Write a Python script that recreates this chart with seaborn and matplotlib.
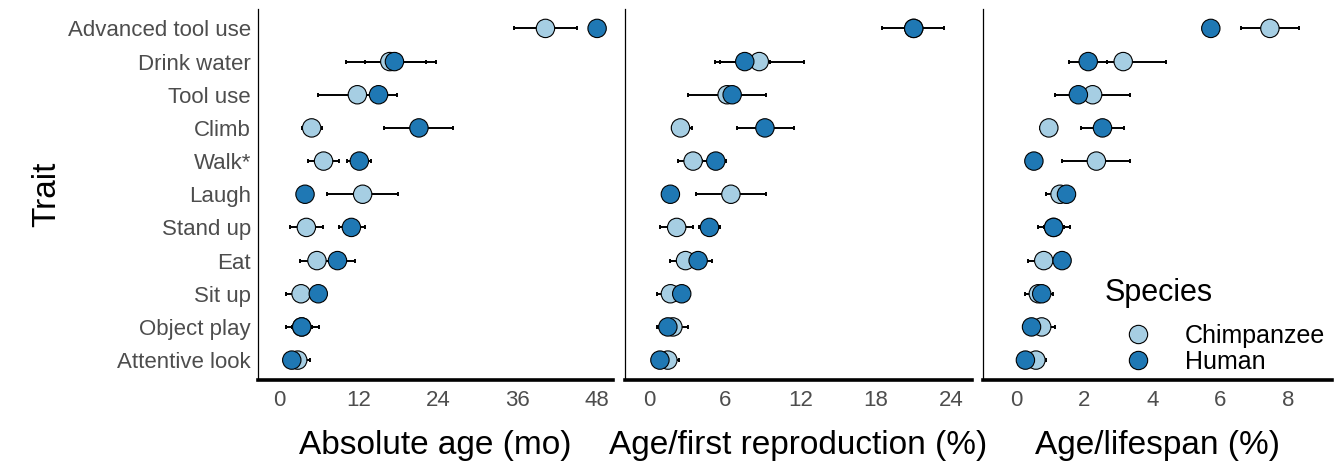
import numpy as np
import pandas as pd
import matplotlib
matplotlib.use("Agg")
import matplotlib.pyplot as plt
from matplotlib.lines import Line2D
import seaborn as sns

traits = ["Advanced tool use", "Drink water", "Tool use", "Climb", "Walk*", "Laugh",
          "Stand up", "Eat", "Sit up", "Object play", "Attentive look"]
species = ["Chimpanzee", "Human"]
colors = ["#a6cee3", "#1f78b4"]

# Panel 1: Absolute age (mo)
abs_chimp = [40.2, 16.7, 11.8, 4.9, 6.7, 12.6, 4.1, 5.7, 3.3, 3.4, 2.8]
abs_chimp_lo = [35.5, 10.1, 5.9, 3.5, 4.4, 7.2, 1.6, 3.1, 1.1, 1.1, 1.6]
abs_chimp_hi = [45.0, 22.1, 14.0, 6.4, 9.0, 17.9, 6.6, 8.0, 4.8, 5.0, 4.7]
abs_human = [48.0, 17.4, 15.0, 21.1, 12.1, 3.9, 10.9, 8.8, 5.9, 3.4, 1.9]
abs_human_lo = [48.0, 12.9, 12.5, 15.8, 10.2, 3.0, 9.1, 6.5, 4.5, 2.0, 0.8]
abs_human_hi = [48.0, 23.6, 17.8, 26.2, 13.9, 4.8, 12.9, 11.5, 7.0, 6.0, 3.0]

# Panel 2: Age / first reproduction (%)
afr_chimp = [21.0, 8.75, 6.2, 2.5, 3.5, 6.5, 2.2, 2.9, 1.7, 1.9, 1.5]
afr_chimp_lo = [18.5, 5.6, 3.1, 1.85, 2.3, 3.75, 0.87, 1.7, 0.6, 0.6, 1.0]
afr_chimp_hi = [23.4, 12.3, 7.0, 3.4, 4.7, 9.3, 3.5, 3.8, 2.5, 3.1, 2.4]
afr_human = [21.0, 7.6, 6.6, 9.2, 5.3, 1.7, 4.8, 3.9, 2.6, 1.5, 0.87]
afr_human_lo = [20.6, 5.2, 6.0, 7.0, 4.2, 1.2, 4.0, 3.0, 1.8, 0.8, 0.4]
afr_human_hi = [21.4, 9.6, 9.3, 11.5, 6.1, 2.2, 5.6, 5.0, 3.2, 2.4, 1.4]

# Panel 3: Age / lifespan (%)
als_chimp = [7.46, 3.14, 2.24, 0.95, 2.35, 1.28, 1.09, 0.80, 0.64, 0.74, 0.57]
als_chimp_lo = [6.6, 2.65, 1.7, 0.7, 1.35, 0.86, 0.62, 0.34, 0.24, 0.4, 0.35]
als_chimp_hi = [8.32, 4.4, 3.34, 1.2, 3.34, 1.5, 1.57, 1.15, 1.08, 1.13, 0.88]
als_human = [5.72, 2.11, 1.82, 2.53, 0.51, 1.47, 1.09, 1.34, 0.74, 0.44, 0.26]
als_human_lo = [5.72, 1.55, 1.13, 1.91, 0.45, 1.3, 0.8, 1.2, 0.5, 0.3, 0.1]
als_human_hi = [5.72, 2.65, 2.3, 3.16, 0.6, 1.6, 1.4, 1.5, 0.9, 0.6, 0.4]

panel_titles = ["Absolute age (mo)", "Age/first reproduction (%)", "Age/lifespan (%)"]
panel_ticks = [[0, 12, 24, 36, 48], [0, 6, 12, 18, 24], [0, 2, 4, 6, 8]]
panel_xlim = [(-3.2, 50.4), (-1.9, 25.6), (-0.98, 9.28)]

panels = [
    (abs_chimp, abs_chimp_lo, abs_chimp_hi, abs_human, abs_human_lo, abs_human_hi),
    (afr_chimp, afr_chimp_lo, afr_chimp_hi, afr_human, afr_human_lo, afr_human_hi),
    (als_chimp, als_chimp_lo, als_chimp_hi, als_human, als_human_lo, als_human_hi),
]

sns.set_theme(style="white")
plt.rcParams["font.family"] = ["Liberation Sans", "DejaVu Sans"]
plt.rcParams["text.color"] = "black"

W, H = 1341, 467
fig = plt.figure(figsize=(W / 100, H / 100), dpi=100)
boxes_px = [(258, 613), (625, 971.7), (983.3, 1331.7)]
top_px, bot_px = 8.5, 380

axes = []
for i, (l, r) in enumerate(boxes_px):
    ax = fig.add_axes([l / W, (H - bot_px) / H, (r - l) / W, (bot_px - top_px) / H])
    axes.append(ax)

for i, ax in enumerate(axes):
    c, clo, chi, h, hlo, hhi = panels[i]
    df = pd.DataFrame({
        "Trait": traits + traits,
        "value": list(c) + list(h),
        "lo": list(clo) + list(hlo),
        "hi": list(chi) + list(hhi),
        "Species": [species[0]] * len(traits) + [species[1]] * len(traits),
    })
    # error bars first
    for sp in species:
        d = df[df["Species"] == sp]
        ax.errorbar(d["value"], d["Trait"],
                    xerr=[d["value"] - d["lo"], d["hi"] - d["value"]],
                    fmt="none", ecolor="black", elinewidth=1.4, capsize=1.7,
                    capthick=1.4, zorder=1)
    sns.scatterplot(data=df, x="value", y="Trait", hue="Species",
                    palette=colors, hue_order=species, s=175,
                    edgecolor="black", linewidth=0.8, legend=False, ax=ax, zorder=3)
    ax.set_ylim(10.6, -0.6)
    ax.set_xlim(*panel_xlim[i])
    ax.set_xticks(panel_ticks[i])
    ax.set_xlabel(panel_titles[i], fontsize=24, color="black", labelpad=14)
    ax.tick_params(axis="x", labelsize=16, labelcolor="#4d4d4d", length=3,
                   width=1, color="#333333", pad=4)
    for s in ["top", "right"]:
        ax.spines[s].set_visible(False)
    ax.spines["left"].set_linewidth(0.9)
    ax.spines["left"].set_color("black")
    ax.spines["bottom"].set_linewidth(2.6)
    ax.spines["bottom"].set_color("black")
    ax.grid(False)
    if i == 0:
        ax.set_ylabel("Trait", fontsize=24, color="black", labelpad=4)
        ax.tick_params(axis="y", labelsize=16, labelcolor="#4d4d4d", length=3,
                       width=1, color="#333333", pad=2)
    else:
        ax.set_ylabel("")
        ax.set_yticklabels([])
        ax.tick_params(axis="y", length=0)

handles = [Line2D([], [], marker="o", linestyle="", markersize=13.2,
                  markerfacecolor=col, markeredgecolor="black", markeredgewidth=0.8)
           for col in colors]
leg = axes[2].legend(handles, species, title="Species", fontsize=18,
                     title_fontsize=22, frameon=False, loc="lower left",
                     bbox_to_anchor=(1105 / W, (H - 374) / H),
                     bbox_transform=fig.transFigure, borderpad=0, borderaxespad=0,
                     handlelength=2.64, handletextpad=0.56, labelspacing=0.1,
                     alignment="left")
leg._legend_box.sep = 11.2
leg.get_title().set_color("black")
for t in leg.get_texts():
    t.set_color("black")

fig.savefig("out.png", dpi=100)
